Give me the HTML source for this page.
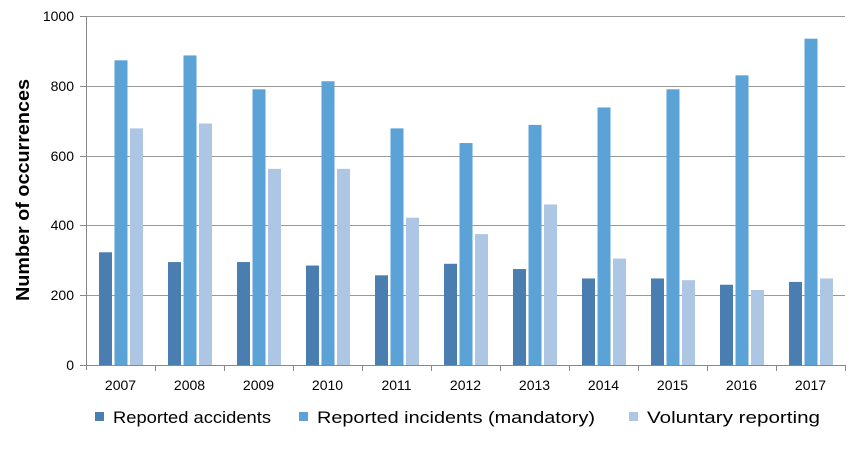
<!DOCTYPE html><html><head><style>body{margin:0;background:#fff}svg{display:block;font-family:"Liberation Sans",sans-serif}</style></head><body>
<svg width="864" height="453" xmlns="http://www.w3.org/2000/svg">
<g stroke="#999" stroke-width="1">
<line x1="86" y1="16.5" x2="845" y2="16.5"/><line x1="86" y1="86.5" x2="845" y2="86.5"/><line x1="86" y1="156.5" x2="845" y2="156.5"/><line x1="86" y1="225.5" x2="845" y2="225.5"/><line x1="86" y1="295.5" x2="845" y2="295.5"/>
</g>
<g id="bars"></g>
<g stroke="#888" stroke-width="1">
<line x1="86.5" y1="16" x2="86.5" y2="370"/><line x1="80" y1="365.5" x2="845" y2="365.5"/>
<line x1="80" y1="16.5" x2="86" y2="16.5"/><line x1="80" y1="86.5" x2="86" y2="86.5"/><line x1="80" y1="156.5" x2="86" y2="156.5"/><line x1="80" y1="225.5" x2="86" y2="225.5"/><line x1="80" y1="295.5" x2="86" y2="295.5"/>
</g>
<g font-size="14" text-anchor="end" fill="#000">
<text x="74" y="21">1000</text><text x="74" y="91">800</text><text x="74" y="161">600</text><text x="74" y="230">400</text><text x="74" y="300">200</text><text x="74" y="370">0</text>
</g>
<text transform="translate(29,190) rotate(-90)" font-size="18" font-weight="bold" text-anchor="middle" textLength="222" lengthAdjust="spacingAndGlyphs">Number of occurrences</text>
<g id="labels" font-size="14" text-anchor="middle"></g>
<g font-size="17">
<rect x="95" y="412" width="9" height="9" fill="#4a7eb0"/><text x="113" y="423" textLength="158" lengthAdjust="spacingAndGlyphs">Reported accidents</text>
<rect x="299" y="412" width="9" height="9" fill="#5ba3d6"/><text x="317" y="423" textLength="278" lengthAdjust="spacingAndGlyphs">Reported incidents (mandatory)</text>
<rect x="629" y="412" width="9" height="9" fill="#adc6e3"/><text x="647" y="423" textLength="173" lengthAdjust="spacingAndGlyphs">Voluntary reporting</text>
</g>
</svg>
<script>
var d=[[323,873,678],[295,887,692],[295,790,562],[285,813,562],[257,678,422],[290,636,375],[275,688,460],[248,738,305],[248,790,243],[230,830,215],[238,935,248]];
var c=["#4a7eb0","#5ba3d6","#adc6e3"],off=[13,28.5,44],s="",l="",t="";
for(var i=0;i<11;i++){var gx=86+i*69;
for(var j=0;j<3;j++){var h=d[i][j]*0.349;s+='<rect x="'+(gx+off[j])+'" y="'+(365-h)+'" width="13" height="'+h+'" fill="'+c[j]+'"/>';}
l+='<text x="'+(gx+34.5)+'" y="390">'+(2007+i)+'</text>';
t+='<line x1="'+(gx+69.5)+'" y1="365" x2="'+(gx+69.5)+'" y2="371" stroke="#888"/>';}
document.getElementById("bars").innerHTML=s+t;
document.getElementById("labels").innerHTML=l;
</script>
</body></html>
